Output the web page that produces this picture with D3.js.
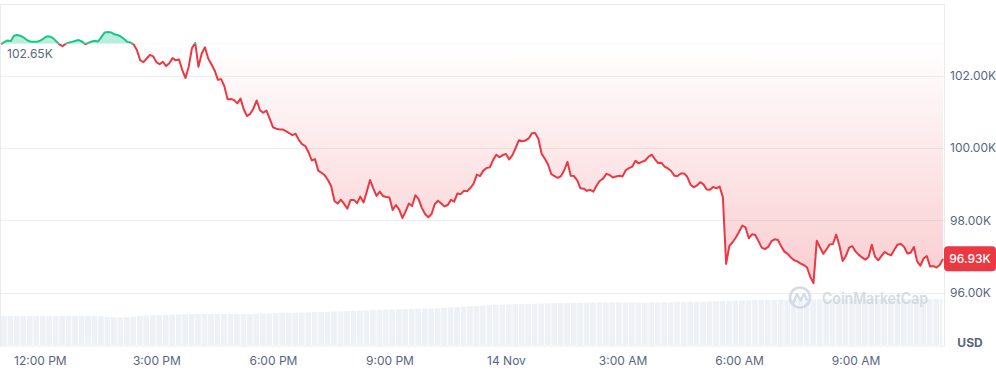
<html>
<head>
<title>BTC 24h price</title>
<script src="https://cdnjs.cloudflare.com/ajax/libs/d3/7.8.5/d3.min.js"></script>
<style>
body { margin: 0; background: #fff; font-family: Inter, "Noto Sans", sans-serif; }
</style>
</head>
<body>
<div id="vis_container"></div>
<script>

// price every 5 minutes, 13 Nov 11:00 -> 14 Nov 11:15
var startTime = new Date(2024, 10, 13, 11, 0);
var priceStepMin = 5;
var prices = [
  102870, 102920, 102970, 102950, 103100, 103120, 103100, 103050, 102980, 102940,
  102930, 102930, 102960, 103010, 103080, 103080, 103040, 102950, 102860, 102810,
  102880, 102910, 102930, 102960, 102980, 102940, 102870, 102900, 102940, 102960,
  102940, 103060, 103190, 103200, 103190, 103140, 103120, 103080, 103010, 102930,
  102910, 102860, 102700, 102420, 102370, 102470, 102570, 102530, 102370, 102310,
  102380, 102260, 102340, 102480, 102420, 102440, 102150, 101930, 102250, 102760,
  102900, 102240, 102610, 102780, 102470, 102310, 102140, 101880, 101900, 101700,
  101340, 101350, 101320, 101230, 101360, 101060, 100880, 100940, 101090, 101310,
  101040, 100970, 101030, 100810, 100570, 100530, 100510, 100510, 100460, 100410,
  100350, 100390, 100220, 100100, 100050, 99880, 99650, 99690, 99370, 99310,
  99240, 99110, 98940, 98530, 98460, 98570, 98450, 98320, 98560, 98560,
  98470, 98650, 98490, 98790, 99110, 98880, 98670, 98790, 98670, 98640,
  98630, 98280, 98420, 98290, 98060, 98240, 98460, 98390, 98690, 98580,
  98340, 98170, 98080, 98170, 98440, 98540, 98460, 98380, 98420, 98560,
  98510, 98740, 98720, 98810, 98800, 98890, 99010, 99260, 99220, 99370,
  99440, 99460, 99660, 99810, 99740, 99800, 99830, 99680, 99800, 100000,
  100210, 100180, 100200, 100260, 100400, 100410, 100250, 99840, 99700, 99540,
  99270, 99220, 99170, 99220, 99380, 99610, 99230, 99220, 99100, 98880,
  98870, 98810, 98840, 98790, 98960, 99090, 99150, 99280, 99250, 99180,
  99210, 99230, 99210, 99380, 99440, 99480, 99640, 99570, 99610, 99650,
  99750, 99810, 99690, 99580, 99590, 99480, 99430, 99360, 99230, 99220,
  99290, 99290, 99200, 98980, 98910, 98960, 99050, 98990, 98850, 98840,
  98920, 98880, 98930, 98630, 96790, 97290, 97390, 97520, 97680, 97850,
  97800, 97500, 97610, 97590, 97420, 97240, 97200, 97260, 97420, 97470,
  97450, 97280, 97130, 97070, 96970, 96890, 96860, 96800, 96760, 96690,
  96430, 96260, 97430, 97250, 97070, 97190, 97330, 97340, 97600, 97300,
  96870, 97010, 97240, 97280, 97130, 97040, 96970, 96910, 96980, 97320,
  96990, 96890, 97010, 97120, 97060, 97030, 97190, 97330, 97340, 97260,
  97080, 97100, 97260, 96860, 96740, 96940, 97010, 96720, 96730, 96690,
  96760, 96930
];

// rolling 24h volume (billion USD), one bar per 10 minutes
var volumeStepMin = 10;
var volumes = [
  96.5, 96.8, 96.6, 96.9, 97.0, 96.7, 97.3, 96.9, 96.8, 97.0, 96.6, 96.8, 97.1, 96.9, 96.4, 95.8,
  93.5, 92.0, 91.8, 92.6,
  94.8, 96.5, 98.0, 99.2, 100.1, 100.5, 101.2, 101.9, 102.4, 103.0,
  103.3, 103.1, 103.5, 103.4, 103.6, 103.2, 103.8, 104.0, 103.7, 104.2, 104.6, 105.3, 105.9, 106.5, 107.1, 107.5,
  107.8, 108.6, 109.5, 110.1, 110.6, 111.4, 112.0, 112.9, 113.6, 114.4,
  115.3, 116.0, 116.9, 117.6, 118.5, 119.0, 119.4, 120.0, 120.7, 121.2,
  121.8, 122.6, 124.0, 125.3, 126.8, 128.0, 129.4, 130.3, 131.2, 132.8, 134.0, 135.0,
  135.6, 136.0, 136.5, 136.8, 137.4, 138.1, 138.8, 139.5, 140.2, 140.6, 141.0, 140.8,
  141.3, 141.6, 141.8, 141.5, 141.9, 141.7, 141.4, 141.2, 141.5, 141.0,
  141.2, 141.6, 142.0, 142.3, 142.8, 143.3, 143.9, 144.2, 143.8, 144.5,
  145.3, 146.0, 146.9, 147.8, 148.4, 149.0, 149.6, 150.0, 150.3, 150.6,
  150.9, 151.3, 151.6, 151.9, 152.0, 152.3, 152.6, 152.4, 152.8, 153.0,
  153.1, 153.3, 153.2, 153.5, 153.4, 153.6, 153.3, 153.5, 153.7, 153.4, 153.6, 153.5, 153.3, 153.6, 153.8, 153.5
];

var baselinePrice = 102875;     // where the chart splits green / red
var baselineText = "102.65K";
var yTickValues = [96000, 98000, 100000, 102000];
var currencyText = "USD";
var watermarkText = "CoinMarketCap";

var green = "#16c784", red = "#ea3943", labelColor = "#58667e";

var width = 996, height = 370;
var svg = d3.select("#vis_container")
  .append("svg")
  .attr("width", width)
  .attr("height", height);

var data = prices.map(function(p, i) {
  return { t: d3.timeMinute.offset(startTime, i * priceStepMin), p: p };
});
var endTime = data[data.length - 1].t;

var x = d3.scaleTime().domain([startTime, endTime]).range([1, 943]);
var y = d3.scaleLinear().domain([96000, 102000]).range([292.5, 75.5]);
var yVol = d3.scaleLinear().domain([0, 150]).range([345, 300]);
var yBase = y(baselinePrice);

var defs = svg.append("defs");
defs.append("clipPath").attr("id", "clipUp")
  .append("rect").attr("x", 0).attr("y", 0).attr("width", 944).attr("height", yBase);
defs.append("clipPath").attr("id", "clipDown")
  .append("rect").attr("x", 0).attr("y", yBase).attr("width", 944).attr("height", 346 - yBase);

var grad = defs.append("linearGradient").attr("id", "redFade")
  .attr("gradientUnits", "userSpaceOnUse")
  .attr("x1", 0).attr("x2", 0)
  .attr("y1", yBase).attr("y2", y(d3.min(prices)));
grad.append("stop").attr("offset", 0).attr("stop-color", red).attr("stop-opacity", 0.0);
grad.append("stop").attr("offset", 1).attr("stop-color", red).attr("stop-opacity", 0.25);

// frame
svg.append("rect")
  .attr("x", 0.5).attr("y", 4.5).attr("width", 944).attr("height", 341.5)
  .attr("fill", "none").attr("stroke", "#e9ecef");

// volume bars
svg.append("g").selectAll("rect").data(volumes).enter().append("rect")
  .attr("x", function(d, j) { return x(d3.timeMinute.offset(startTime, j * volumeStepMin)); })
  .attr("width", function(d, j) {
    var t0 = d3.timeMinute.offset(startTime, j * volumeStepMin);
    var t1 = d3.timeMinute.offset(t0, volumeStepMin);
    if (t1 > endTime) t1 = endTime;
    return Math.max(0.5, x(t1) - x(t0) - 0.8);
  })
  .attr("y", function(d) { return yVol(d); })
  .attr("height", function(d) { return 345 - yVol(d); })
  .attr("fill", "#eef1f5");

// grid
svg.append("g").selectAll("line").data(yTickValues).enter().append("line")
  .attr("x1", 1).attr("x2", 944)
  .attr("y1", function(d) { return Math.round(y(d)) + 0.5; })
  .attr("y2", function(d) { return Math.round(y(d)) + 0.5; })
  .attr("stroke", "#eceef2");

// watermark
var wm = svg.append("g").attr("opacity", 0.85);
wm.append("circle").attr("cx", 800).attr("cy", 297.5).attr("r", 10)
  .attr("fill", "none").attr("stroke", "#cfd6e2").attr("stroke-width", 2.6);
wm.append("path").attr("d", "M793.5,302.5 L797,294 L800.5,300.5 L804,294 L807,299.5")
  .attr("fill", "none").attr("stroke", "#cfd6e2").attr("stroke-width", 2.4)
  .attr("stroke-linejoin", "round").attr("stroke-linecap", "round");
wm.append("text").attr("x", 822).attr("y", 303.5)
  .attr("font-size", 16).attr("font-weight", 600).attr("fill", "#cfd6e2")
  .attr("textLength", 106).attr("lengthAdjust", "spacingAndGlyphs")
  .text(watermarkText);

// areas
var area = d3.area()
  .x(function(d) { return x(d.t); })
  .y0(yBase)
  .y1(function(d) { return y(d.p); });

svg.append("path").datum(data)
  .attr("d", area).attr("clip-path", "url(#clipUp)")
  .attr("fill", green).attr("fill-opacity", 0.3);
svg.append("path").datum(data)
  .attr("d", area).attr("clip-path", "url(#clipDown)")
  .attr("fill", "url(#redFade)");

// lines
var line = d3.line()
  .x(function(d) { return x(d.t); })
  .y(function(d) { return y(d.p); });

svg.append("path").datum(data)
  .attr("d", line).attr("clip-path", "url(#clipUp)")
  .attr("fill", "none").attr("stroke", green).attr("stroke-width", 2)
  .attr("stroke-linejoin", "round");
svg.append("path").datum(data)
  .attr("d", line).attr("clip-path", "url(#clipDown)")
  .attr("fill", "none").attr("stroke", red).attr("stroke-width", 2)
  .attr("stroke-linejoin", "round");

// baseline label
svg.append("text").attr("x", 7).attr("y", yBase + 14.5)
  .attr("font-size", 12).attr("fill", labelColor)
  .text(baselineText);

// y axis
var yAxis = d3.axisRight(y)
  .tickValues(yTickValues)
  .tickSize(0).tickPadding(6)
  .tickFormat(function(d) { return d3.format(".2f")(d / 1000) + "K"; });
var gy = svg.append("g").attr("transform", "translate(944,0)").call(yAxis);
gy.select(".domain").remove();
gy.selectAll("text").attr("font-size", 12).attr("fill", labelColor)
  .attr("font-family", "Inter, sans-serif");

// x axis
var fmtDay = d3.timeFormat("%-d %b"), fmtHour = d3.timeFormat("%-I:%M %p");
var xAxis = d3.axisBottom(x)
  .ticks(d3.timeHour.every(3))
  .tickSize(0).tickPadding(10)
  .tickFormat(function(d) { return d.getHours() === 0 ? fmtDay(d) : fmtHour(d); });
var gx = svg.append("g").attr("transform", "translate(0,346)").call(xAxis);
gx.select(".domain").remove();
gx.selectAll("text").attr("font-size", 12).attr("fill", labelColor)
  .attr("font-family", "Inter, sans-serif");

// last price tag
var last = prices[prices.length - 1];
var tag = svg.append("g").attr("transform", "translate(944," + y(last) + ")");
tag.append("rect").attr("x", 0).attr("y", -12.5).attr("width", 52).attr("height", 25)
  .attr("rx", 4).attr("fill", red);
tag.append("text").attr("x", 26).attr("dy", "0.35em").attr("text-anchor", "middle")
  .attr("font-size", 12).attr("font-weight", 500).attr("fill", "#fff")
  .text(d3.format(".2f")(last / 1000) + "K");

// currency
svg.append("text").attr("x", 970).attr("y", 343).attr("dy", "0.35em")
  .attr("text-anchor", "middle").attr("font-size", 12).attr("font-weight", 700)
  .attr("fill", labelColor).text(currencyText);

</script>
</body>
</html>
